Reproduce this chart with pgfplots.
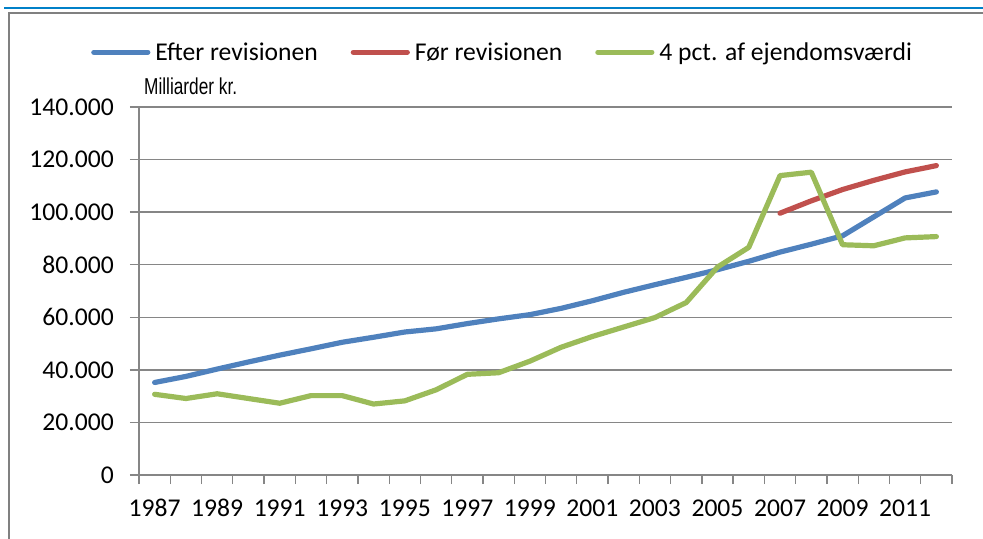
\documentclass[border=0pt]{standalone}
\usepackage{pgfplots}
\pgfplotsset{compat=1.18}
\usepackage{fontspec}
\setmainfont{Carlito}
\newfontfamily\narrowfont[FakeStretch=0.75]{Liberation Sans}
\definecolor{cblue}{RGB}{79,129,189}
\definecolor{cred}{RGB}{192,80,77}
\definecolor{cgreen}{RGB}{155,187,89}
\definecolor{gridgray}{RGB}{134,134,134}
\definecolor{framegray}{RGB}{128,128,128}
\definecolor{topblue}{RGB}{0,128,200}
\tikzset{serie/.style={line width=5.2bp, line join=round, line cap=round}}
\begin{document}
\begin{tikzpicture}[font=\fontsize{25.6bp}{30bp}\selectfont]
\path[use as bounding box] (0,0) rectangle (983bp,539bp);
\draw[topblue, line width=2bp] (4bp,530.8bp) -- (990bp,530.8bp);
\draw[framegray, line width=2bp] (9bp,-10bp) -- (9bp,525.5bp) -- (990bp,525.5bp);
\node[anchor=base west, inner sep=0pt, font=\narrowfont\fontsize{23bp}{26bp}\selectfont] at (144bp,444bp) {Milliarder kr.};
\begin{axis}[
  at={(139bp,64bp)}, anchor=south west,
  scale only axis, width=813bp, height=368bp,
  xmin=-0.5, xmax=25.5, ymin=0, ymax=140000,
  axis x line*=bottom, axis y line*=left,
  axis line style={-, gridgray, line width=1.3bp},
  tick align=outside,
  major tick length=9bp,
  tick style={gridgray, line width=1.3bp},
  scaled y ticks=false,
  scaled x ticks=false,
  xtick={-0.5,0.5,1.5,2.5,3.5,4.5,5.5,6.5,7.5,8.5,9.5,10.5,11.5,12.5,13.5,14.5,15.5,16.5,17.5,18.5,19.5,20.5,21.5,22.5,23.5,24.5,25.5},
  xticklabels={1987,,1989,,1991,,1993,,1995,,1997,,1999,,2001,,2003,,2005,,2007,,2009,,2011,,},
  xticklabel style={inner sep=0pt, anchor=north, text height=16.5bp, text depth=0bp, xshift=15.63bp, yshift=-16bp, font=\fontsize{25.6bp}{30bp}\selectfont},
  ytick={0,20000,40000,60000,80000,100000,120000,140000},
  yticklabels={0,20.000,40.000,60.000,80.000,100.000,120.000,140.000},
  yticklabel style={inner sep=0pt, anchor=east, xshift=-16bp, font=\fontsize{25.6bp}{30bp}\selectfont},
  ymajorgrids,
  grid style={gridgray, line width=1.3bp},
  legend columns=3,
  legend style={at={(-0.059,1.149)}, anchor=west, draw=none, fill=none, inner sep=0pt,
    font=\fontsize{25.6bp}{30bp}\selectfont,
    nodes={inner sep=0pt, anchor=west},
    /tikz/every odd column/.append style={column sep=5bp},
    /tikz/every even column/.append style={column sep=33bp}},
  legend image code/.code={\draw[#1] (0bp,0bp) -- (54bp,0bp);},
]
\addplot[cblue, serie] coordinates {
(0,35200) (1,37500) (2,40300) (3,43000) (4,45600) (5,48000) (6,50500) (7,52400) (8,54400) (9,55600)
(10,57600) (11,59400) (12,61000) (13,63400) (14,66300) (15,69500) (16,72400) (17,75200) (18,78100)
(19,81300) (20,84800) (21,87800) (22,91000) (23,98200) (24,105400) (25,107700)};
\addlegendentry{Efter revisionen}
\addplot[cred, serie] coordinates {
(20,99600) (21,104300) (22,108600) (23,112100) (24,115300) (25,117700)};
\addlegendentry{Før revisionen}
\addplot[cgreen, serie] coordinates {
(0,30700) (1,29100) (2,30900) (3,29100) (4,27300) (5,30200) (6,30200) (7,27000) (8,28200) (9,32400)
(10,38300) (11,38900) (12,43300) (13,48600) (14,52700) (15,56300) (16,59900) (17,65600) (18,79100)
(19,86600) (20,113900) (21,115200) (22,87600) (23,87200) (24,90200) (25,90700)};
\addlegendentry{4 pct. af ejendomsværdi}
\end{axis}
\end{tikzpicture}
\end{document}
